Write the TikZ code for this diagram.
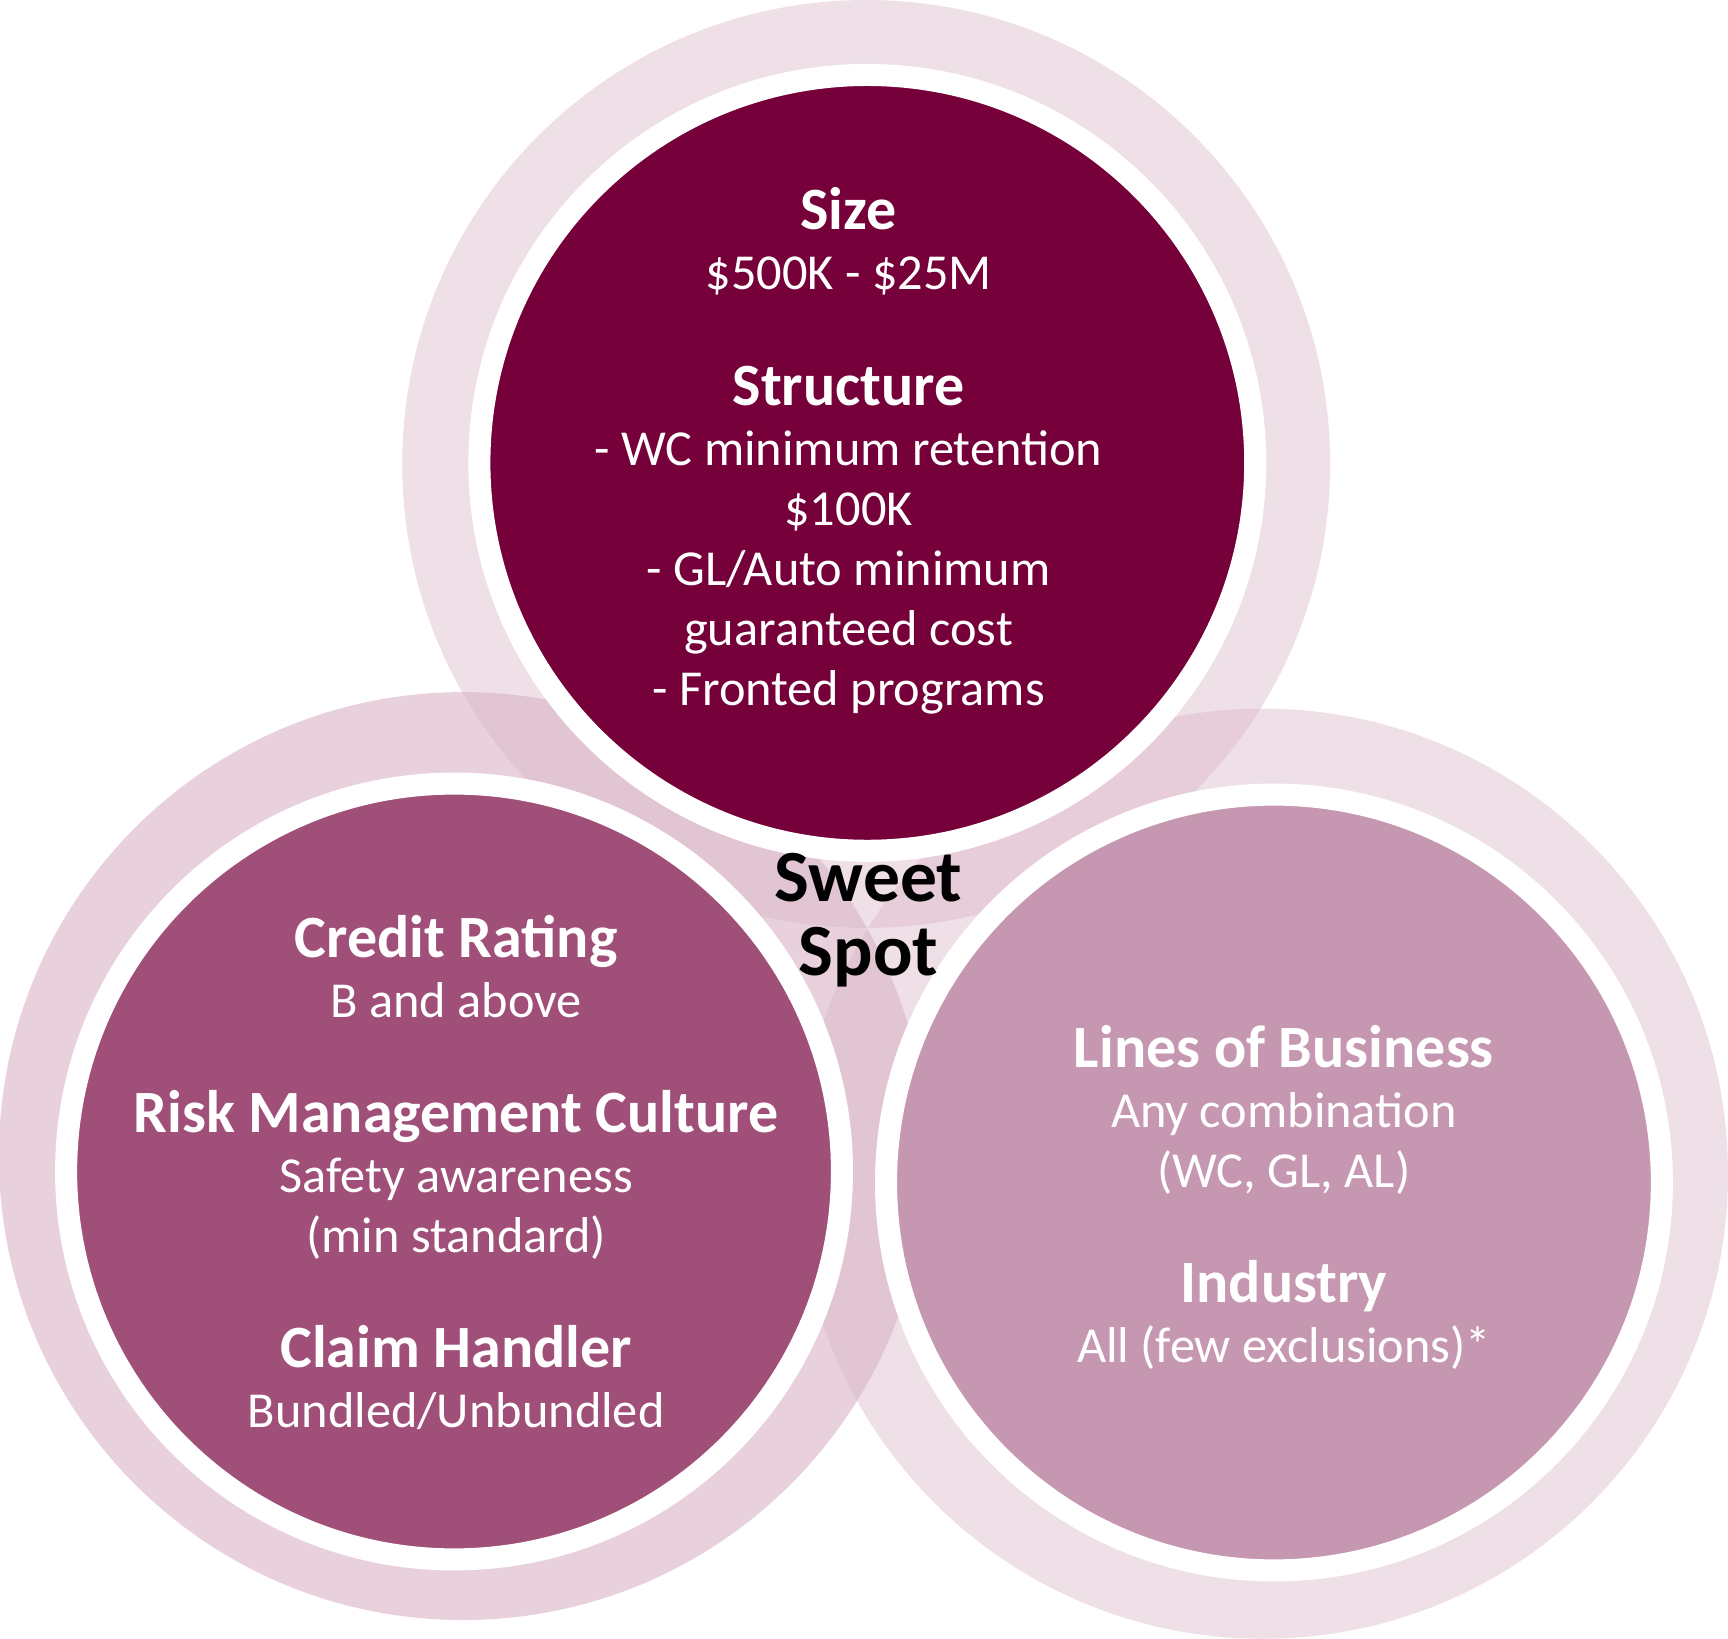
\documentclass[tikz,border=0pt]{standalone}
\usepackage{fontspec}
\setmainfont{Carlito}
\definecolor{topc}{HTML}{75003A}
\definecolor{leftc}{HTML}{A05078}
\definecolor{rightc}{HTML}{C697B0}
\definecolor{ringc}{HTML}{D9B3C6}
\tikzset{ring/.style={fill=ringc,fill opacity=0.4,draw=none},
inner/.style={circle,draw=white,line width=2mm,minimum size=70.4mm,inner sep=0pt},
txt/.style={text=white,align=center,font=\fontsize{13}{15.5}\selectfont},
hd/.style={font=\bfseries\fontsize{15.5}{18}\selectfont}}
\begin{document}
\begin{tikzpicture}[x=0.1mm,y=-0.1mm]
\useasboundingbox (0,0) rectangle (1568,1487);
\fill[ringc,fill opacity=0.42] (786,421) circle (421);
\fill[ringc,fill opacity=0.6] (420,1049) circle (421);
\fill[ringc,fill opacity=0.42] (1146,1065) circle (422);
\node[inner,fill=leftc] (L) at (412,1063) {};
\node[inner,fill=rightc] (R) at (1156,1073) {};
\node[inner,fill=topc] (T) at (787,420) {};
\node[txt,anchor=north] (tt) at (770,158) {{\bfseries\fontsize{15.5}{18}\selectfont Size}\\\$500K - \$25M\\[5mm]{\bfseries\fontsize{15.5}{18}\selectfont Structure}\\- WC minimum retention\\\$100K\\- GL/Auto minimum\\guaranteed cost\\- Fronted programs};
\node[txt,anchor=north] (lt) at (414,818) {{\bfseries\fontsize{15.5}{18}\selectfont Credit Rating}\\B and above\\[5mm]{\bfseries\fontsize{15.5}{18}\selectfont Risk Management Culture}\\Safety awareness\\(min standard)\\[5mm]{\bfseries\fontsize{15.5}{18}\selectfont Claim Handler}\\Bundled/Unbundled};
\node[txt,anchor=north] (rt) at (1165,918) {{\bfseries\fontsize{15.5}{18}\selectfont Lines of Business}\\Any combination\\(WC, GL, AL)\\[5mm]{\bfseries\fontsize{15.5}{18}\selectfont Industry}\\All (few exclusions)*};
\node[align=center,font=\bfseries\fontsize{19}{19}\selectfont] (ss) at (788,835) {Sweet\\Spot};
\end{tikzpicture}
\end{document}
